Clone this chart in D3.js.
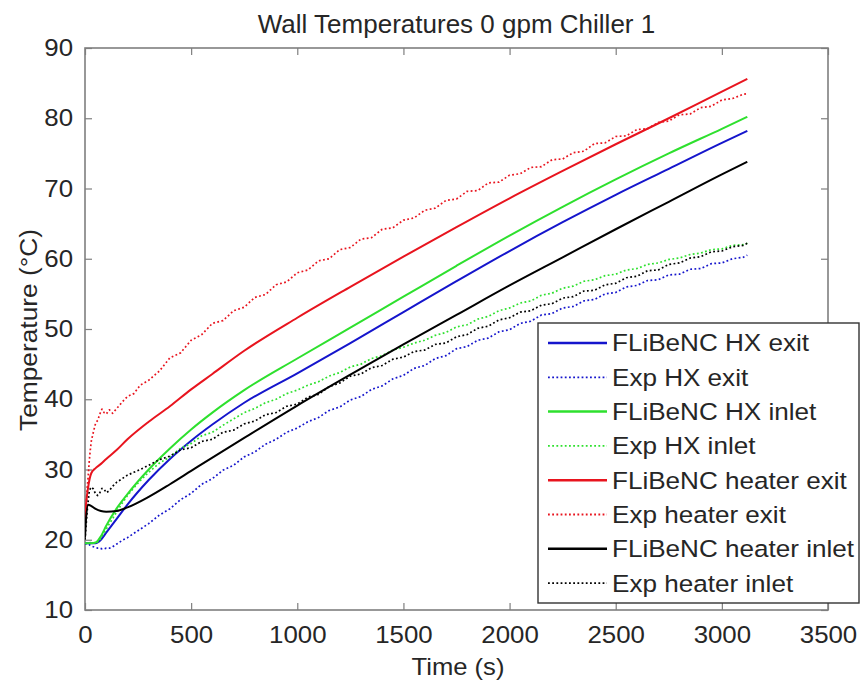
<!DOCTYPE html>
<html><head><meta charset="utf-8">
<script src="https://cdn.jsdelivr.net/npm/d3@7"></script>
<style>body{margin:0;background:#fff}svg{display:block}</style>
</head><body>
<script>
// ---------- DATA ----------
const title = "Wall Temperatures 0 gpm Chiller 1";
const xLabel = "Time (s)";
const yLabel = "Temperature (°C)";
const xTicks = [0,500,1000,1500,2000,2500,3000,3500];
const yTicks = [10,20,30,40,50,60,70,80,90];

// model time grid (s)
const tModel = [0,5,15,30,50,75,100,150,200,300,400,500,600,750,1000,1250,1500,1750,2000,2250,2500,2750,3000,3120];
const hxExitModel     = [19.5,19.5,19.5,19.5,19.5,20,21,23,25,28.5,31.5,34.1,36.4,39.5,43.7,48.0,52.4,56.8,61.1,65.2,69.1,72.8,76.5,78.2];
const hxInletModel    = [19.5,19.5,19.5,19.5,19.6,20.5,22,24.5,26.5,30,33,35.7,38.1,41.3,45.8,50.2,54.6,59.0,63.3,67.4,71.3,75.0,78.5,80.2];
const heaterExitModel = [22.5,25,27.5,29.5,30.2,30.8,31.5,32.8,34.3,36.8,39.0,41.4,43.6,46.9,51.6,56.0,60.3,64.5,68.6,72.5,76.3,80.0,83.8,85.6];
const heaterInletModel= [20.3,23,25,24.8,24.4,24.1,24,24.1,24.6,26.1,27.9,29.8,31.7,34.5,39.1,43.5,47.8,52,56.2,60.2,64.2,68.1,72,73.8];

// experiment time grid (s)
const tExp = [0,5,10,15,20,25,30,40,50,60,70,80,90,100,115,130,150,175,200,230,260,300,
  350,400,450,500,550,600,650,700,750,800,850,900,950,1000,
  1050,1100,1150,1200,1250,1300,1350,1400,1450,1500,
  1550,1600,1650,1700,1750,1800,1850,1900,1950,2000,
  2050,2100,2150,2200,2250,2300,2350,2400,2450,2500,
  2550,2600,2650,2700,2750,2800,2850,2900,2950,3000,
  3050,3100,3120];
const hxExitExp = [19.5,19.4,19.4,19.3,19.3,19.2,19.1,19.0,18.9,18.8,18.8,18.7,18.7,18.8,18.8,19.0,19.4,19.9,20.3,20.9,21.5,22.3,
  23.5,24.4,25.7,26.6,27.9,28.7,29.9,30.6,31.8,32.5,33.6,34.3,35.3,35.9,
  36.8,37.4,38.4,38.9,39.9,40.4,41.4,41.9,42.9,43.4,
  44.4,44.8,45.8,46.2,47.2,47.5,48.4,48.7,49.6,49.9,
  50.8,51.1,52.0,52.2,53.0,53.2,54.0,54.2,55.0,55.2,
  56.0,56.2,56.9,57.0,57.7,57.8,58.5,58.6,59.3,59.4,
  60.0,60.2,60.5];
const hxInletExp = [19.5,19.5,19.6,19.5,19.5,19.6,19.5,19.5,19.6,19.7,20.0,20.5,21.0,21.5,22.3,23.0,24.0,25.2,26.3,27.4,28.4,29.6,
  30.9,31.8,33.0,33.7,34.8,35.3,36.3,37.2,38.1,38.7,39.5,40.0,40.8,41.3,
  42.0,42.5,43.3,43.8,44.6,45.0,45.8,46.2,47.0,47.4,
  48.0,48.4,49.1,49.5,50.3,50.6,51.4,51.8,52.6,53.0,
  53.7,54.0,54.8,55.1,55.8,56.1,56.8,57.0,57.6,57.8,
  58.4,58.6,59.2,59.4,59.9,60.1,60.6,60.8,61.3,61.4,
  61.9,62.0,62.2];
const heaterExitExp = [22.0,24.5,27.2,29.0,31.2,32.8,34.1,35.4,36.6,37.0,37.9,38.6,38.1,37.9,38.5,38.0,38.7,39.6,40.4,40.8,42.0,42.7,
  44.0,45.9,46.6,48.4,49.2,50.8,51.2,52.6,53.1,54.5,54.9,56.3,56.7,58.0,
  58.4,59.7,60.0,61.3,61.6,62.8,63.0,64.2,64.4,65.5,
  65.8,66.9,67.2,68.3,68.5,69.6,69.7,70.8,70.9,71.9,
  72.1,73.0,73.1,74.1,74.2,75.1,75.3,76.4,76.5,77.4,
  77.5,78.4,78.5,79.4,79.6,80.5,80.6,81.5,81.7,82.6,
  82.8,83.4,83.5];
const heaterInletExp = [20.0,22.0,24.0,25.5,26.8,27.3,27.5,27.2,26.5,26.3,26.7,27.3,27.2,26.7,27.0,27.6,28.2,28.7,29.2,29.6,30.0,30.6,
  31.4,31.9,32.8,33.1,34.0,34.3,35.3,35.6,36.5,36.9,37.8,38.1,39.0,39.3,
  40.3,40.7,41.8,42.3,43.3,43.6,44.5,44.8,45.7,46.0,
  46.8,47.0,47.8,48.0,48.9,49.2,50.1,50.4,51.3,51.6,
  52.4,52.6,53.4,53.6,54.4,54.6,55.4,55.5,56.3,56.5,
  57.3,57.5,58.3,58.4,59.2,59.4,60.1,60.3,61.0,61.1,
  61.7,61.9,62.2];

const seriesNames = ["FLiBeNC HX exit","Exp HX exit","FLiBeNC HX inlet","Exp HX inlet",
  "FLiBeNC heater exit","Exp heater exit","FLiBeNC heater inlet","Exp heater inlet"];

// ---------- STYLE ----------
const BLUE="#1515cc", GREEN="#2ee02e", RED="#e8141e", BLACK="#000000";
const series = [
  {name:seriesNames[0], t:tModel, v:hxExitModel,     color:BLUE,  dotted:false},
  {name:seriesNames[1], t:tExp,   v:hxExitExp,       color:BLUE,  dotted:true},
  {name:seriesNames[2], t:tModel, v:hxInletModel,    color:GREEN, dotted:false},
  {name:seriesNames[3], t:tExp,   v:hxInletExp,      color:GREEN, dotted:true},
  {name:seriesNames[4], t:tModel, v:heaterExitModel, color:RED,   dotted:false},
  {name:seriesNames[5], t:tExp,   v:heaterExitExp,   color:RED,   dotted:true},
  {name:seriesNames[6], t:tModel, v:heaterInletModel,color:BLACK, dotted:false},
  {name:seriesNames[7], t:tExp,   v:heaterInletExp,  color:BLACK, dotted:true}
];

const W=861, H=684;
const L=85, R=828, T=48, B=610;
const FONT="'Liberation Sans', Arial, Helvetica, sans-serif";
const AX="#7f7f7f", TXT="#262626";

const svg = d3.select("body").append("svg").attr("width",W).attr("height",H)
  .style("font-family",FONT);

const x = d3.scaleLinear().domain([0,3500]).range([L,R]);
const y = d3.scaleLinear().domain([10,90]).range([B,T]);

function stretch(sel, sx){
  sel.each(function(){
    const t=d3.select(this);
    const xx=+t.attr("x")||0;
    t.attr("x", xx/sx).attr("transform", `scale(${sx},1)`);
  });
}

// axes
const gB = svg.append("g").attr("transform",`translate(0,${B})`)
  .call(d3.axisBottom(x).tickValues(xTicks).tickSize(-7).tickSizeOuter(0).tickPadding(16).tickFormat(d3.format("d")));
const gL = svg.append("g").attr("transform",`translate(${L},0)`)
  .call(d3.axisLeft(y).tickValues(yTicks).tickSize(-7).tickSizeOuter(0).tickPadding(12).tickFormat(d3.format("d")));
const gT = svg.append("g").attr("transform",`translate(0,${T})`)
  .call(d3.axisTop(x).tickValues(xTicks).tickSize(-7).tickSizeOuter(0).tickFormat(""));
const gR = svg.append("g").attr("transform",`translate(${R},0)`)
  .call(d3.axisRight(y).tickValues(yTicks).tickSize(-7).tickSizeOuter(0).tickFormat(""));
[gB,gL,gT,gR].forEach(g=>{
  g.select(".domain").remove();
  g.selectAll("line").attr("stroke",AX).attr("stroke-width",1.2);
  g.selectAll("text").attr("fill",TXT).style("font-size","23.5px").style("font-family",FONT);
});
stretch(gB.selectAll("text"),1.1);
stretch(gL.selectAll("text"),1.1);

svg.append("rect").attr("x",L).attr("y",T).attr("width",R-L).attr("height",B-T)
  .attr("fill","none").attr("stroke",AX).attr("stroke-width",1.6);

// lines
svg.append("clipPath").attr("id","clip").append("rect")
  .attr("x",L).attr("y",T).attr("width",R-L).attr("height",B-T);
const smooth = d3.line().x(d=>x(d[0])).y(d=>y(d[1])).curve(d3.curveMonotoneX);
const raw = d3.line().x(d=>x(d[0])).y(d=>y(d[1]));
const gLines = svg.append("g").attr("clip-path","url(#clip)");
series.forEach(s=>{
  const pts = s.t.map((t,i)=>[t,s.v[i]]);
  gLines.append("path").datum(pts).attr("d", s.dotted?raw:smooth)
    .attr("fill","none").attr("stroke",s.color)
    .attr("stroke-width", s.dotted?1.7:2)
    .attr("stroke-linejoin","round")
    .attr("stroke-dasharray", s.dotted?"1.8,2.4":null);
});

// title & labels
svg.append("text").attr("x",456.5/1.02).attr("y",33).attr("transform","scale(1.02,1)")
  .attr("text-anchor","middle").style("font-size","25.5px").attr("fill",TXT).text(title);
svg.append("text").attr("x",458/1.09).attr("y",675).attr("transform","scale(1.09,1)")
  .attr("text-anchor","middle").style("font-size","23.5px").attr("fill",TXT).text(xLabel);
svg.append("text").attr("transform","translate(37,330) rotate(-90) scale(1.12,1)")
  .attr("text-anchor","middle").style("font-size","23.5px").attr("fill",TXT).text(yLabel);

// legend
const lg = svg.append("g");
lg.append("rect").attr("x",538).attr("y",323).attr("width",321).attr("height",280)
  .attr("fill","#fff").attr("stroke","#333").attr("stroke-width",1.4);
series.forEach((s,i)=>{
  const cy = 343 + i*34.3;
  lg.append("line").attr("x1",548).attr("x2",607).attr("y1",cy).attr("y2",cy)
    .attr("stroke",s.color).attr("stroke-width",s.dotted?1.8:2.5)
    .attr("stroke-dasharray",s.dotted?"1.8,2.4":null);
  lg.append("text").attr("x",612/1.11).attr("y",cy+8.5).attr("transform","scale(1.11,1)")
    .style("font-size","23.5px").attr("fill",TXT).text(s.name);
});
</script>
</body></html>
